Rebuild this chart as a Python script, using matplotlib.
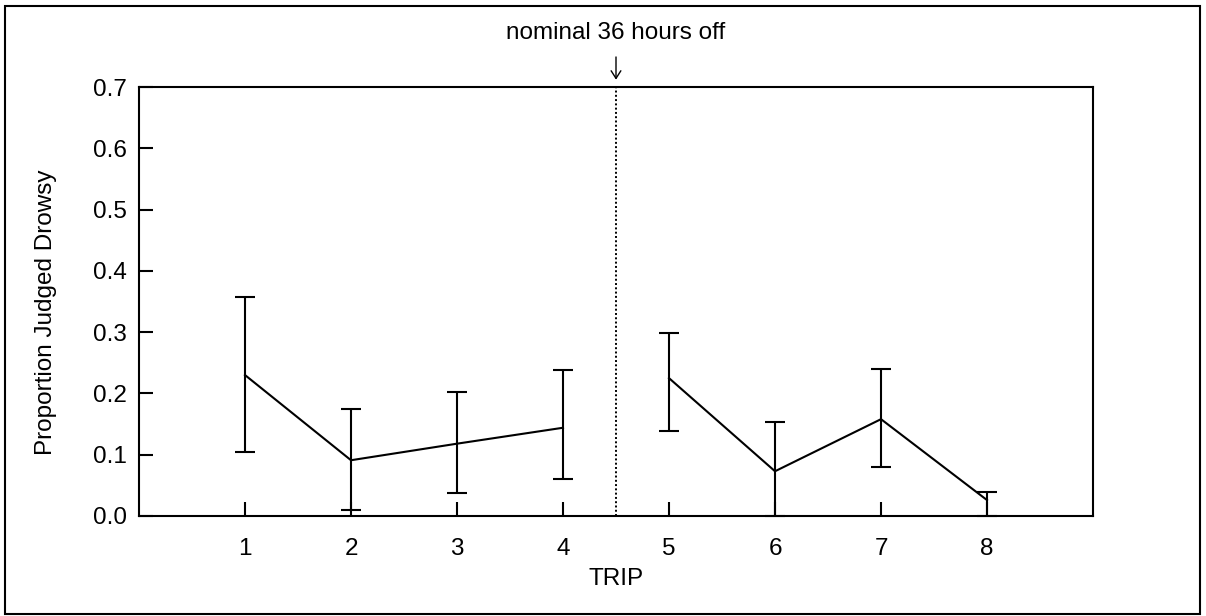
import matplotlib
matplotlib.use("Agg")
import matplotlib.pyplot as plt
from matplotlib.patches import Rectangle

# Data
trips = [1, 2, 3, 4, 5, 6, 7, 8]
means = [0.230, 0.091, 0.118, 0.144, 0.225, 0.073, 0.158, 0.026]
upper = [0.358, 0.175, 0.203, 0.238, 0.299, 0.154, 0.240, 0.039]
lower = [0.104, 0.010, 0.038, 0.060, 0.138, 0.000, 0.080, 0.000]
yticks = [0.0, 0.1, 0.2, 0.3, 0.4, 0.5, 0.6, 0.7]
break_x = 4.5
annotation = "nominal 36 hours off"

plt.rcParams['font.family'] = ['Liberation Sans', 'DejaVu Sans']

fig = plt.figure(figsize=(12.06, 6.16), dpi=100)
ax = fig.add_axes([139/1206, 1 - 516/616, (1093-139)/1206, (516-87)/616])

err_lo = [m - l for m, l in zip(means, lower)]
err_hi = [u - m for m, u in zip(means, upper)]
ax.errorbar(trips, means, yerr=[err_lo, err_hi], fmt='none', ecolor='black',
            elinewidth=1.5, capsize=7, capthick=1.5, clip_on=False, zorder=3)

# two separate line segments (before and after the break)
first = [i for i, t in enumerate(trips) if t < break_x]
second = [i for i, t in enumerate(trips) if t > break_x]
ax.plot([trips[i] for i in first], [means[i] for i in first], color='black', lw=1.5)
ax.plot([trips[i] for i in second], [means[i] for i in second], color='black', lw=1.5)

ax.axvline(break_x, color='black', lw=1.4, linestyle=(0, (1, 1.2)))

ax.set_xlim(0, 9)
ax.set_ylim(0, 0.7)
ax.set_xticks(trips)
ax.set_xticklabels([str(t) for t in trips])
ax.set_yticks(yticks)
ax.set_yticklabels([f"{v:.1f}" for v in yticks])
ax.tick_params(axis='both', direction='in', length=10, width=1.5, labelsize=17.5)
ax.tick_params(axis='x', pad=15.5)
ax.tick_params(axis='y', pad=9)
ax.tick_params(top=False, right=False)
for s in ax.spines.values():
    s.set_linewidth(1.5)

ax.set_xlabel("TRIP", fontsize=17.5)
ax.xaxis.set_label_coords(0.5, -0.122)
ax.set_ylabel("Proportion Judged Drowsy", fontsize=17.5)
ax.yaxis.set_label_coords(-0.086, 0.474)

ax.annotate('', xy=(break_x, 1.017), xycoords=('data', 'axes fraction'),
            xytext=(break_x, 1.07), textcoords=('data', 'axes fraction'),
            arrowprops=dict(arrowstyle='->,head_length=0.55,head_width=0.35',
                            color='black', lw=1.0, shrinkA=0, shrinkB=0),
            annotation_clip=False)
ax.text(break_x, 1.126, annotation, transform=ax.get_xaxis_transform(),
        ha='center', va='center', fontsize=17.5)

fig.patches.append(Rectangle((5/1206, 1 - 614/616), (1200-5)/1206, (614-6)/616,
                             transform=fig.transFigure, fill=False,
                             edgecolor='black', lw=1.5))

fig.savefig("out.png", dpi=100)
